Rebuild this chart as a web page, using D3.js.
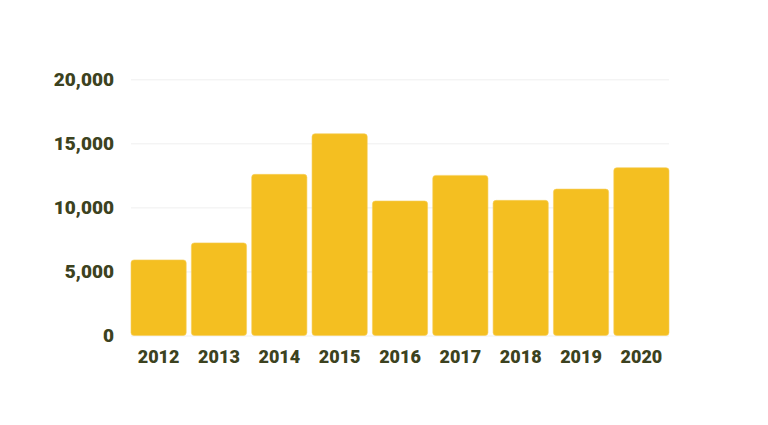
<!DOCTYPE html>
<html><head><meta charset="utf-8">
<script src="https://cdn.jsdelivr.net/npm/d3@7"></script>
<style>html,body{margin:0;padding:0;background:#fff;}svg{display:block;}</style>
</head><body>
<svg id="c" width="768" height="425"></svg>
<script>
const years = ["2012","2013","2014","2015","2016","2017","2018","2019","2020"];
const values = [5900, 7230, 12580, 15750, 10500, 12500, 10550, 11430, 13100];
const yTicks = [0, 5000, 10000, 15000, 20000];

const svg = d3.select("#c");
const m = {left:131, right:99, top:79.3, bottom:89.5};
const W = 768, H = 425;
const x = d3.scaleBand().domain(years).range([m.left, W - m.right]).paddingInner(0.085).paddingOuter(0);
const y = d3.scaleLinear().domain([0, 20000]).range([H - m.bottom, m.top]);
const txt = "#3c4220";
const font = "Roboto, sans-serif";

const gy = svg.append("g").attr("transform", `translate(${m.left},0)`)
  .call(d3.axisLeft(y).tickValues(yTicks).tickFormat(d3.format(",")).tickSize(-(W - m.left - m.right)).tickPadding(17));
gy.select(".domain").remove();
gy.selectAll(".tick line").attr("stroke", "#efefef").attr("stroke-width", 1);
gy.selectAll(".tick text").attr("fill", txt).attr("font-family", font).attr("font-weight", 900).attr("font-size", 19);

svg.append("g").selectAll("rect").data(values).join("rect")
  .attr("x", (d,i) => x(years[i]))
  .attr("width", x.bandwidth())
  .attr("y", d => y(d))
  .attr("height", d => y(0) - y(d))
  .attr("rx", 3).attr("ry", 3)
  .attr("fill", "#f4bf21")
  .attr("stroke", "#f7cf5c").attr("stroke-width", 0.6);

const gx = svg.append("g").attr("transform", `translate(0,${H - m.bottom})`)
  .call(d3.axisBottom(x).tickSize(0).tickPadding(15));
gx.select(".domain").remove();
gx.selectAll(".tick text").attr("fill", txt).attr("font-family", font).attr("font-weight", 900).attr("font-size", 18);
</script>
</body></html>
